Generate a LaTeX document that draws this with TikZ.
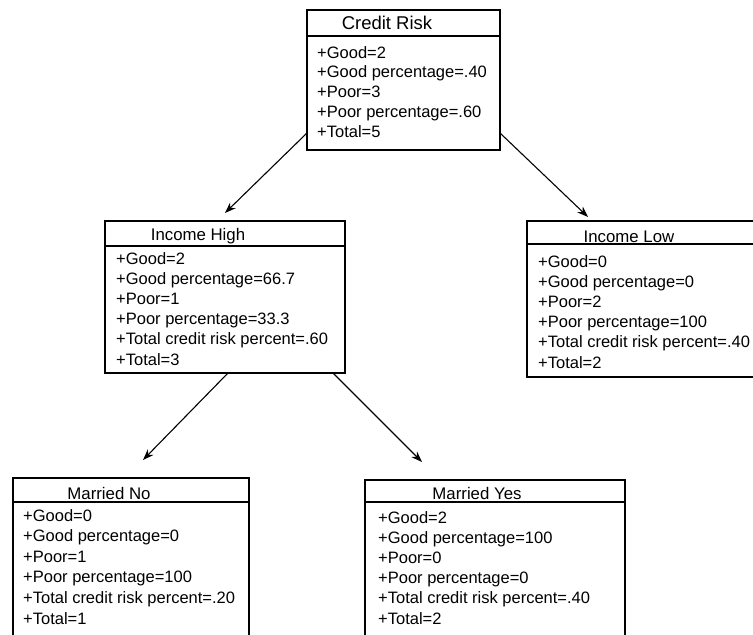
\documentclass[tikz,border=0pt]{standalone}
\usepackage{fontspec}
\usetikzlibrary{arrows.meta,calc}
\newfontfamily\umlfont{Liberation Sans}

% class-style box: outline, header rule, title and attribute lines
\newcommand\classbox[6]{% name, x1, y1, x2, y2, header rule y
  \node[box, minimum width={(#4-#2)*1pt}, minimum height={(#5-#3)*1pt}]
    (#1) at ({(#2+#4)/2},{(#3+#5)/2}) {};
  \coordinate (#1-h) at (0,#6);
  \draw[boxline] (#1.west |- #1-h) -- (#1.east |- #1-h);
}
\newcommand\attrlines[5]{% name, x, first baseline, step, lines
  \foreach \t [count=\i from 0] in {#5}
    \node[attr] (#1-a\i) at (#2,{#3+\i*#4}) {\t};
}

\begin{document}
\begin{tikzpicture}[x=1pt, y=-1pt,
  box/.style={draw, line width=1.3pt, rectangle, inner sep=0pt, outer sep=0pt},
  boxline/.style={line width=1.3pt},
  attr/.style={anchor=base west, inner sep=0pt, font={\umlfont\fontsize{16.5}{20}\selectfont}},
  title/.style={anchor=base, inner sep=0pt, font={\umlfont\fontsize{16.8}{20}\selectfont}},
  arr/.style={line width=1.1pt, -{Stealth[length=11pt, width=8pt]}}]
\clip (0,0) rectangle (753,635);
\fill[white] (0,0) rectangle (753,635);

% root
\classbox{cr}{307}{10}{500}{150}{36}
\node[title, font={\umlfont\fontsize{18.5}{22}\selectfont}] (cr-t) at (387,29) {Credit Risk};
\attrlines{cr}{317}{58}{19.8}{+Good=2, +Good percentage=.40, +Poor=3, +Poor percentage=.60, +Total=5}

% income split
\classbox{ih}{105}{221}{345}{373}{246}
\node[title] (ih-t) at (198,240) {Income High};
\attrlines{ih}{116}{264}{20.2}{+Good=2, +Good percentage=66.7, +Poor=1, +Poor percentage=33.3, +Total credit risk percent=.60, +Total=3}

\classbox{il}{527}{221}{800}{377}{244}
\node[title] (il-t) at (629,242) {Income Low};
\attrlines{il}{538}{267}{20.2}{+Good=0, +Good percentage=0, +Poor=2, +Poor percentage=100, +Total credit risk percent=.40, +Total=2}

% marital split
\classbox{mn}{13}{478}{249}{700}{502}
\node[title] (mn-t) at (109,499) {Married No};
\attrlines{mn}{23}{521}{20.6}{+Good=0, +Good percentage=0, +Poor=1, +Poor percentage=100, +Total credit risk percent=.20, +Total=1}

\classbox{my}{365}{480}{625}{700}{502}
\node[title] (my-t) at (477,499) {Married Yes};
\attrlines{my}{378}{523}{20.2}{+Good=2, +Good percentage=100, +Poor=0, +Poor percentage=0, +Total credit risk percent=.40, +Total=2}

% connectors
\draw[arr] ($(cr.south west)+(0,-17)$) -- ($(ih.north)+(0,-8)$);
\draw[arr] ($(cr.south east)+(0,-17)$) -- ($(il.north west)+(61,-4)$);
\draw[arr] ($(ih.south west)+(123,0)$) -- ($(mn.north west)+(130,-18)$);
\draw[arr] ($(ih.south east)+(-12,0)$) -- ($(my.north west)+(57,-18)$);
\end{tikzpicture}
\end{document}
